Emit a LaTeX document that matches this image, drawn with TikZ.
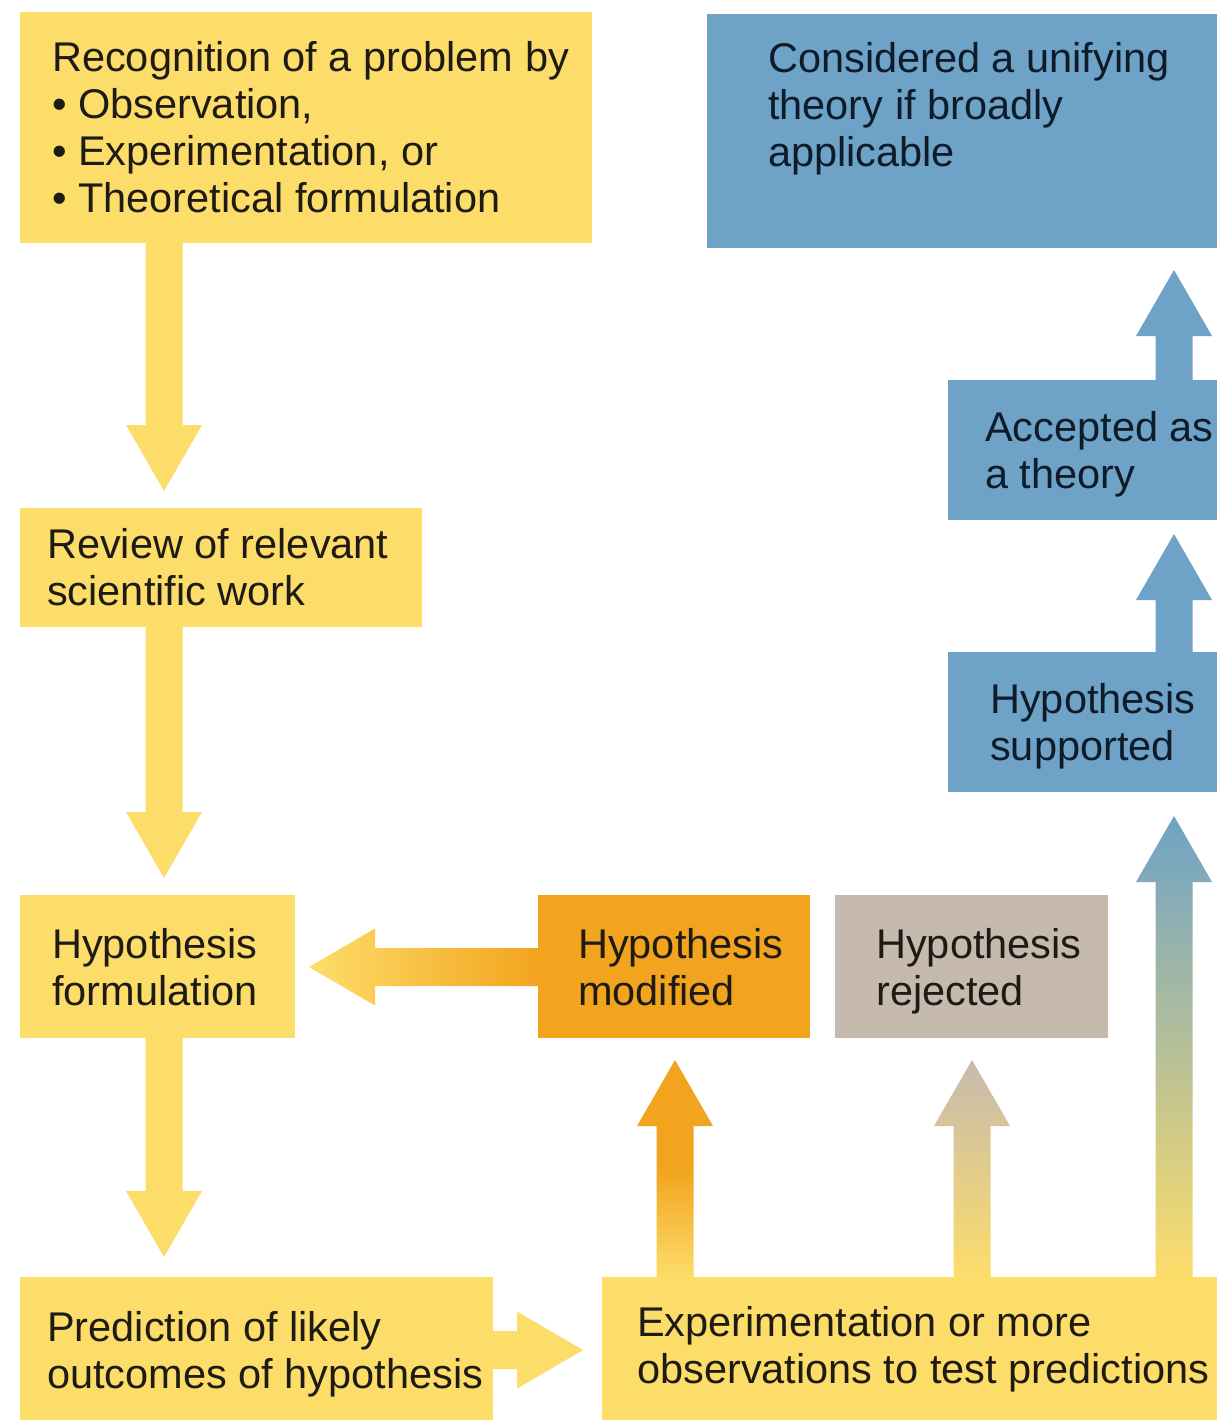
\documentclass[tikz,border=0pt]{standalone}
\usepackage{fontspec}
\setmainfont{Liberation Sans}
\usetikzlibrary{calc}
\definecolor{yel}{HTML}{FDDD6A}
\definecolor{blu}{HTML}{6EA2C6}
\definecolor{org}{HTML}{F2A41E}
\definecolor{gry}{HTML}{C6BAAE}
\definecolor{ink}{HTML}{1E1A14}
\definecolor{inkb}{HTML}{0E1C2A}
\newcommand{\mltext}[1]{\vtop{\baselineskip=47pt\lineskiplimit=-20pt\halign{##\hfil\cr#1\crcr}}}
% block arrows: style, source point, target anchor, gap
\newcommand{\arrdown}[4]{\path[#1] let \p1=#2, \p2=#3 in
 (\x1-18.5pt,\y1+1pt) -- (\x1-18.5pt,\y2+#4+66pt) -- (\x1-38pt,\y2+#4+66pt) -- (\x1,\y2+#4) -- (\x1+38pt,\y2+#4+66pt) -- (\x1+18.5pt,\y2+#4+66pt) -- (\x1+18.5pt,\y1+1pt) -- cycle;}
\newcommand{\arrup}[4]{\path[#1] let \p1=#2, \p2=#3 in
 (\x1-18.5pt,\y1-1pt) -- (\x1-18.5pt,\y2-#4-66pt) -- (\x1-38pt,\y2-#4-66pt) -- (\x1,\y2-#4) -- (\x1+38pt,\y2-#4-66pt) -- (\x1+18.5pt,\y2-#4-66pt) -- (\x1+18.5pt,\y1-1pt) -- cycle;}
\newcommand{\arrleft}[4]{\path[#1] let \p1=#2, \p2=#3 in
 (\x1+1pt,\y1-19pt) -- (\x2+#4+66pt,\y1-19pt) -- (\x2+#4+66pt,\y1-38.5pt) -- (\x2+#4,\y1) -- (\x2+#4+66pt,\y1+38.5pt) -- (\x2+#4+66pt,\y1+19pt) -- (\x1+1pt,\y1+19pt) -- cycle;}
\newcommand{\arrright}[4]{\path[#1] let \p1=#2, \p2=#3 in
 (\x1-1pt,\y1-19pt) -- (\x2-#4-66pt,\y1-19pt) -- (\x2-#4-66pt,\y1-38.5pt) -- (\x2-#4,\y1) -- (\x2-#4-66pt,\y1+38.5pt) -- (\x2-#4-66pt,\y1+19pt) -- (\x1-1pt,\y1+19pt) -- cycle;}
\begin{document}
\begin{tikzpicture}[x=1pt,y=-1pt,
  box/.style={anchor=north west, inner sep=0pt, outer sep=0pt},
  ybox/.style={box, fill=yel},
  bbox/.style={box, fill=blu},
  obox/.style={box, fill=org},
  gbox/.style={box, fill=gry},
  txt/.style={anchor=base west, inner sep=0pt, text=ink, font=\fontsize{41.5pt}{47pt}\selectfont},
  btxt/.style={txt, text=inkb}]
\fill[white] (0,0) rectangle (1216,1420);
\useasboundingbox (0,0) rectangle (1216,1420);
% boxes
\node[ybox, minimum width=572, minimum height=231] (rec) at (20,12) {};
\node[bbox, minimum width=520, minimum height=234] (con) at (707,14) {};
\node[bbox, minimum width=280, minimum height=140] (acc) at (948,380) {};
\node[bbox, minimum width=280, minimum height=140] (sup) at (948,652) {};
\node[ybox, minimum width=402, minimum height=119] (rev) at (20,508) {};
\node[ybox, minimum width=275, minimum height=143] (form) at (20,895) {};
\node[obox, minimum width=272, minimum height=143] (mod) at (538,895) {};
\node[gbox, minimum width=273, minimum height=143] (rej) at (835,895) {};
\node[ybox, minimum width=473, minimum height=150] (pred) at (20,1277) {};
\node[ybox, minimum width=620, minimum height=150] (exp) at (602,1277) {};
% arrows
\arrdown{fill=yel}{($(rec.south west)+(144,0)$)}{(rev.north)}{17pt}
\arrdown{fill=yel}{($(rev.south west)+(144,0)$)}{(form.north)}{17pt}
\arrdown{fill=yel}{($(form.south west)+(144,0)$)}{(pred.north)}{20pt}
\arrright{fill=yel}{($(pred.north east)+(0,73)$)}{(exp.west)}{19pt}
\arrleft{left color=yel, right color=org}{($(mod.north west)+(0,72)$)}{(form.east)}{14pt}
\arrup{top color=org, bottom color=yel, middle color=org}{($(exp.north west)+(73,0)$)}{(mod.south)}{22pt}
\arrup{top color=gry, bottom color=yel}{($(exp.north west)+(370,0)$)}{(rej.south)}{22pt}
\arrup{top color=blu, bottom color=yel}{($(exp.north west)+(572,0)$)}{(sup.south)}{24pt}
\arrup{fill=blu}{($(sup.north west)+(226,0)$)}{(acc.south)}{14pt}
\arrup{fill=blu}{($(acc.north west)+(226,0)$)}{(con.south)}{22pt}
% texts
\node[txt] (trec) at (52,72) {\mltext{Recognition of a problem by\cr • Observation,\cr • Experimentation, or\cr • Theoretical formulation}};
\node[btxt] (tcon) at (768,73) {\mltext{Considered a unifying\cr theory if broadly\cr applicable}};
\node[btxt] (tacc) at (985,441) {\mltext{Accepted as\cr a theory}};
\node[btxt] (tsup) at (990,713) {\mltext{Hypothesis\cr supported}};
\node[txt] (trev) at (47,558) {\mltext{Review of relevant\cr scientific work}};
\node[txt] (tform) at (52,958) {\mltext{Hypothesis\cr formulation}};
\node[txt] (tmod) at (578,958) {\mltext{Hypothesis\cr modified}};
\node[txt] (trej) at (876,958) {\mltext{Hypothesis\cr rejected}};
\node[txt] (tpred) at (47,1341) {\mltext{Prediction of likely\cr outcomes of hypothesis}};
\node[txt] (texp) at (637,1336) {\mltext{Experimentation or more\cr observations to test predictions}};
\end{tikzpicture}
\end{document}
